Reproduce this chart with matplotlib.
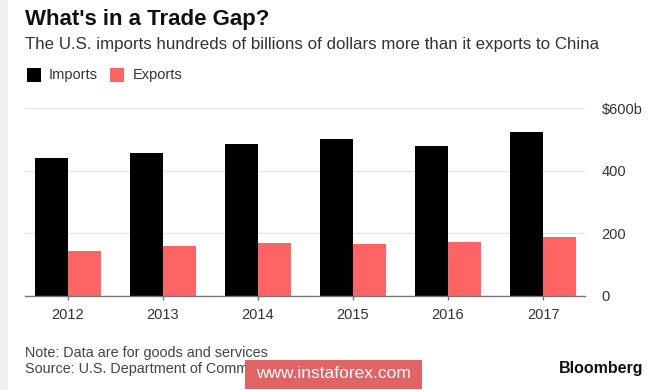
import numpy as np
import matplotlib
matplotlib.use("Agg")
from matplotlib import pyplot as plt
from matplotlib.patches import Rectangle

years = ["2012", "2013", "2014", "2015", "2016", "2017"]
imports = [440, 456, 486, 501, 478, 525]
exports = [143, 160, 168, 165, 172, 188]
y_ticks = [0, 200, 400, 600]
y_labels = ["0", "200", "400", "$600b"]

plt.rcParams['font.family'] = ['Liberation Sans', 'DejaVu Sans']

fig = plt.figure(figsize=(6.65, 3.90), dpi=100)
fig.patch.set_facecolor("white")

# light strip at the left edge
fig.patches.append(Rectangle((0, 0), 8 / 665, 1, transform=fig.transFigure,
                             facecolor="#f0f0f0", edgecolor="none", zorder=0))

ax = fig.add_axes([25 / 665, 1 - 295.7 / 390, 560 / 665, (295.7 - 108.3) / 390])
x = np.arange(len(years))
w = 0.347
ax.bar(x - w / 2, imports, w, color="black", zorder=3)
ax.bar(x + w / 2, exports, w, color="#ff6464", zorder=3)

ax.set_xlim(-0.448, 5.44)
ax.set_ylim(0, 600)
ax.set_yticks(y_ticks)
ax.set_yticklabels(y_labels)
ax.yaxis.tick_right()
ax.tick_params(axis="y", length=0, pad=12, labelsize=10.5, labelcolor="#333333")
ax.set_xticks(x)
ax.set_xticklabels(years)
ax.tick_params(axis="x", length=3, width=1, color="#777777", pad=6, labelsize=10.5, labelcolor="#333333")
ax.grid(axis="y", color="#e6e6e6", linewidth=1, zorder=0)
for s in ["top", "left", "right"]:
    ax.spines[s].set_visible(False)
ax.spines["bottom"].set_color("#777777")
ax.spines["bottom"].set_linewidth(1)
ax.spines["bottom"].set_zorder(4)
ax.set_facecolor("none")

# header
fig.text(25 / 665, 1 - 19 / 390, "What's in a Trade Gap?", fontsize=16, fontweight="bold",
         color="#111111", va="center", ha="left")
fig.text(25 / 665, 1 - 45 / 390, "The U.S. imports hundreds of billions of dollars more than it exports to China",
         fontsize=12.2, color="#333333", va="center", ha="left")

# legend
fig.patches.append(Rectangle((26.7 / 665, 1 - 82 / 390), 14 / 665, 14 / 390, transform=fig.transFigure,
                             facecolor="black", edgecolor="none"))
fig.text(49 / 665, 1 - 75 / 390, "Imports", fontsize=10.5, color="#333333", va="center", ha="left")
fig.patches.append(Rectangle((110 / 665, 1 - 82 / 390), 14 / 665, 14 / 390, transform=fig.transFigure,
                             facecolor="#ff6464", edgecolor="none"))
fig.text(133 / 665, 1 - 75 / 390, "Exports", fontsize=10.5, color="#333333", va="center", ha="left")

# footer
fig.text(25 / 665, 1 - 352.5 / 390, "Note: Data are for goods and services", fontsize=10.4,
         color="#444444", va="center", ha="left")
fig.text(25 / 665, 1 - 369 / 390, "Source: U.S. Department of Commerce", fontsize=10.4,
         color="#444444", va="center", ha="left")
fig.text(643 / 665, 1 - 369 / 390, "Bloomberg", fontsize=11.5, fontweight="bold",
         color="#111111", va="center", ha="right")

# watermark
fig.patches.append(Rectangle((245 / 665, 1 - 388.5 / 390), 177 / 665, 29 / 390, transform=fig.transFigure,
                             facecolor="#e06464", edgecolor="none", zorder=5))
fig.text(333 / 665, 1 - 374 / 390, "www.instaforex.com", fontsize=12.5, color="white",
         va="center", ha="center", zorder=6)

fig.savefig("out.png", dpi=100)
